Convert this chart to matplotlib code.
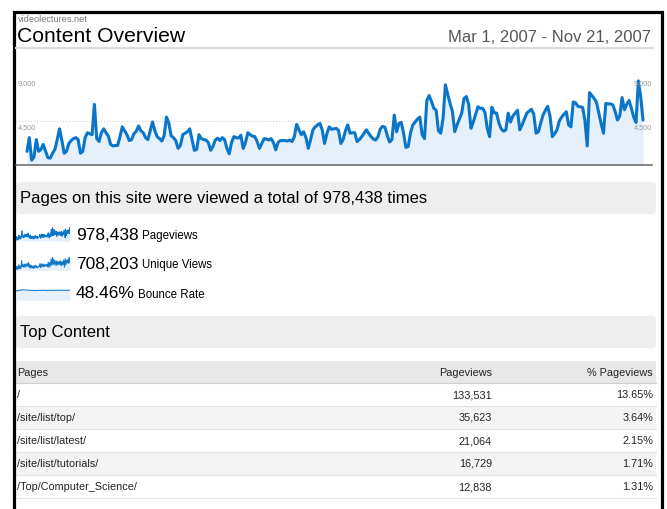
import numpy as np
import matplotlib
matplotlib.use("Agg")
import matplotlib.pyplot as plt
from matplotlib.patches import FancyBboxPatch, Rectangle

plt.rcParams['font.family'] = ['Liberation Sans', 'DejaVu Sans']

# ---------------- data ----------------
site_name = "videolectures.net"
title = "Content Overview"
date_range = "Mar 1, 2007 - Nov 21, 2007"

# daily pageviews, Mar 1 2007 (Thu) .. Nov 21 2007
pageviews = [
    1400, 2800, 500, 800,
    2600, 1400, 1600, 2100, 1400, 750, 700,
    1200, 1600, 2600, 3700, 2500, 1200, 1400,
    2200, 2500, 2700, 2800, 2600, 1200, 1400,
    2800, 3300, 3200, 3100, 6200, 2700, 2400,
    3300, 3700, 3300, 2950, 2100, 1950, 2000,
    2000, 2900, 3900, 3500, 3100, 2500, 2600,
    3200, 3450, 4000, 3500, 3300, 2800, 2600,
    3500, 4400, 3500, 2900, 2700, 2450, 3000,
    4900, 4300, 3000, 2800, 2500, 1700, 2000,
    3100, 3250, 3400, 3700, 2600, 1500, 1600,
    3100, 2700, 2600, 2550, 2300, 1500, 1900,
    2550, 2750, 2500, 2800, 2600, 1700, 1150,
    2300, 2900, 2800, 2750, 3050, 1700, 2300,
    3300, 3100, 2950, 2900, 2400, 1700, 2200,
    2700, 2650, 2550, 2700, 2300, 1550, 2300,
    2500, 2500, 2500, 2450, 2550, 2400, 2900,
    4150, 3600, 3100, 3400, 2800, 1700, 2600,
    3600, 3900, 4100, 4250, 3600, 2200, 3200,
    3900, 3650, 3700, 3750, 3550, 2200, 2600,
    3500, 4100, 3250, 3300, 3300, 2400, 2600,
    2900, 3250, 3600, 3250, 2900, 2650, 2550,
    2900, 3700, 3950, 3850, 3000, 2350, 2600,
    5100, 3400, 4250, 4350, 3250, 1800, 1900,
    3300, 4100, 4400, 4700, 4900, 3100, 2700,
    6600, 7100, 6500, 5800, 5600, 3500, 3250,
    4800, 8200, 7200, 6300, 5500, 3400, 4100,
    4700, 5300, 6800, 7000, 6200, 3750, 4400,
    5200, 5950, 5800, 5800, 5400, 3750, 2900,
    5900, 5350, 5300, 4300, 3700, 3450, 3600,
    5300, 4400, 5000, 5300, 5600, 3600, 4100,
    4700, 5300, 5500, 5700, 5200, 3250, 3400,
    4300, 5100, 5600, 6000, 5000, 2900, 3200,
    3600, 4500, 4900, 5200, 5450, 4100, 3900,
    6450, 6350, 6000, 5950, 5900, 4600, 1950,
    7400, 7100, 6800, 6400, 5300, 4200, 3250,
    6300, 6250, 6250, 6150, 5500, 4600, 5000,
    6900, 5650, 6200, 6600, 5800, 4900, 4350,
    8600, 7000, 4600,
]

y_ticks = [4500, 9000]
y_tick_labels = ["4,500", "9,000"]

# sparkline series (half-weekly highs / lows)
unique_views = [
    2000, 360, 1870, 500, 2660, 860, 2020, 860, 4460, 1730, 2660, 1400,
    2810, 1440, 2880, 1870, 3170, 1760, 3530, 1220, 2660, 1080, 2230, 1080,
    2020, 830, 2200, 1220, 2380, 1220, 1940, 1120, 1840, 1730, 2990, 1220,
    3060, 1580, 2810, 1580, 2950, 1730, 2590, 1840, 2840, 1690, 3670, 1300,
    3530, 1940, 5110, 2340, 5900, 2450, 5040, 2700, 4280, 2090, 4250, 2480,
    4030, 2590, 4100, 2340, 4320, 2090, 3920, 2590, 4640, 1400, 5330, 2340,
    4540, 3310, 4970, 3130, 6190, 3310,
]
bounce_rate = [
    46, 44, 47, 45, 48, 47, 49, 48, 50, 49, 51, 50, 50, 49, 50, 48, 49, 48,
    49, 47, 48, 47, 48, 47, 48, 46, 47, 46, 47, 46, 48, 47, 48, 47, 48, 47,
    48, 47, 49, 47, 48, 47, 48, 47, 48, 46, 48, 47, 49, 47, 48, 47, 49, 48,
    48, 47, 48, 47, 49, 47, 48, 47, 48, 47, 49, 48, 48, 47, 49, 47, 48, 47,
    48, 47, 49, 48, 49, 48,
]

summary_text = "Pages on this site were viewed a total of 978,438 times"
metric_values = ["978,438", "708,203", "48.46%"]
metric_labels = ["Pageviews", "Unique Views", "Bounce Rate"]

section2 = "Top Content"
table_header = ["Pages", "Pageviews", "% Pageviews"]
pages = ["/", "/site/list/top/", "/site/list/latest/", "/site/list/tutorials/",
         "/Top/Computer_Science/"]
page_views = ["133,531", "35,623", "21,064", "16,729", "12,838"]
page_pct = ["13.65%", "3.64%", "2.15%", "1.71%", "1.31%"]

# ---------------- figure ----------------
W, H = 667, 509
fig = plt.figure(figsize=(W / 100, H / 100), dpi=100)
fig.patch.set_facecolor("white")

bg = fig.add_axes([0, 0, 1, 1])
bg.set_xlim(0, W)
bg.set_ylim(H, 0)
bg.axis("off")


def fax(x0, y0, x1, y1):
    """axes rect from pixel box (top-left origin)"""
    return [x0 / W, 1 - y1 / H, (x1 - x0) / W, (y1 - y0) / H]


# outer border
bg.plot([13.5, 13.5, 661.5, 661.5], [H + 5, 12, 12, H + 5], color="black", lw=2.3,
        solid_joinstyle="miter")

# header
bg.text(18, 19.5, site_name, fontsize=6.6, color="#777777", va="center", ha="left")
bg.text(17, 36, title, fontsize=15.2, color="black", va="center", ha="left")
bg.text(651, 37.5, date_range, fontsize=12, color="#555555", va="center", ha="right")
bg.plot([16, 653], [48, 48], color="#DDDDDD", lw=1.5)

# main chart
LINE = "#0A75C9"
FILL = "#E5F0FA"
ax = fig.add_axes(fax(16, 77, 652, 165))
ax.set_facecolor("none")
days = np.arange(len(pageviews))
x_left = (16 - 27) * (len(pageviews) - 1) / (643 - 27)
x_right = (652 - 27) * (len(pageviews) - 1) / (643 - 27)
ax.set_xlim(x_left, x_right)
ax.set_ylim(0, 9000)
ax.axhline(4500, color="#CCCCCC", lw=0.7, ls=(0, (1, 2)), zorder=0)
ax.fill_between(days, pageviews, 0, color=FILL, lw=0, zorder=1)
ax.plot(days, pageviews, color=LINE, lw=2.2, solid_joinstyle="round",
        solid_capstyle="round", zorder=2, clip_on=False)
for s in ["top", "left", "right"]:
    ax.spines[s].set_visible(False)
ax.spines["bottom"].set_color("#666666")
ax.spines["bottom"].set_linewidth(1.1)
ax.set_xticks([])
ax.set_yticks([])
for v, lab in zip(y_ticks, y_tick_labels):
    ax.annotate(lab, xy=(0, v), xycoords=("axes fraction", "data"), xytext=(1.5, -2),
                textcoords="offset points", ha="left", va="top", fontsize=5.3,
                color="#999999")
    ax.annotate(lab, xy=(1, v), xycoords=("axes fraction", "data"), xytext=(0, -2),
                textcoords="offset points", ha="right", va="top", fontsize=5.3,
                color="#999999")

# section bars
for (y0, y1, txt) in [(182, 214, summary_text), (316, 348, section2)]:
    bg.add_patch(FancyBboxPatch((16, y0), 640, y1 - y0,
                                boxstyle="round,pad=0,rounding_size=4",
                                fc="#EEEEEE", ec="none"))
    bg.text(20, (y0 + y1) / 2 + 0.5, txt, fontsize=12, color="black",
            va="center", ha="left")

# sparklines + metrics
spark_series = [pageviews, unique_views, bounce_rate]
spark_tops = [1.0, 1.0, 1.35]
centers = [234.5, 264, 293.5]
for series, top, yc, val, lab in zip(spark_series, spark_tops, centers,
                                     metric_values, metric_labels):
    sax = fig.add_axes(fax(16, yc - 7.5, 70, yc + 6.5))
    sax.set_facecolor("none")
    xs = np.arange(len(series))
    sax.set_xlim(0, len(series) - 1)
    sax.set_ylim(0, max(series) * top)
    sax.fill_between(xs, series, 0, color=FILL, lw=0)
    sax.plot(xs, series, color=LINE, lw=0.7)
    sax.axis("off")
    t = bg.text(76, yc + 0.5, val, fontsize=12.5, color="black", va="center",
                ha="left")
    bg.annotate(lab, xy=(1, 0), xycoords=t, xytext=(2.5, 0.6),
                textcoords="offset points", fontsize=8.3, color="black",
                va="bottom", ha="left")

# table
FS = 7.8
hdr_y0, hdr_y1 = 361, 383
bg.add_patch(Rectangle((16, hdr_y0), 640, hdr_y1 - hdr_y0, fc="#E8E8E8", ec="none"))
bg.plot([16, 656], [hdr_y1, hdr_y1], color="#D0D0D0", lw=0.8)
hy = (hdr_y0 + hdr_y1) / 2 + 0.5
bg.text(17, hy, table_header[0], fontsize=FS, color="#222222", va="center", ha="left")
bg.text(492, hy, table_header[1], fontsize=FS, color="#222222", va="center", ha="right")
bg.text(653, hy, table_header[2], fontsize=FS, color="#222222", va="center", ha="right")

row_h = 23
for i, (p, pv, pc) in enumerate(zip(pages, page_views, page_pct)):
    y0 = hdr_y1 + i * row_h
    if i % 2 == 1:
        bg.add_patch(Rectangle((16, y0), 640, row_h, fc="#F4F4F4", ec="none"))
    bg.plot([16, 656], [y0 + row_h, y0 + row_h], color="#E2E2E2", lw=0.8)
    yc = y0 + row_h / 2 + 0.5
    bg.text(17, yc, p, fontsize=FS, color="#222222", va="center", ha="left")
    bg.text(492, yc, pv, fontsize=FS, color="#222222", va="center", ha="right")
    bg.text(653, yc, pc, fontsize=FS, color="#222222", va="center", ha="right")

fig.savefig("out.png", dpi=100, facecolor="white")
